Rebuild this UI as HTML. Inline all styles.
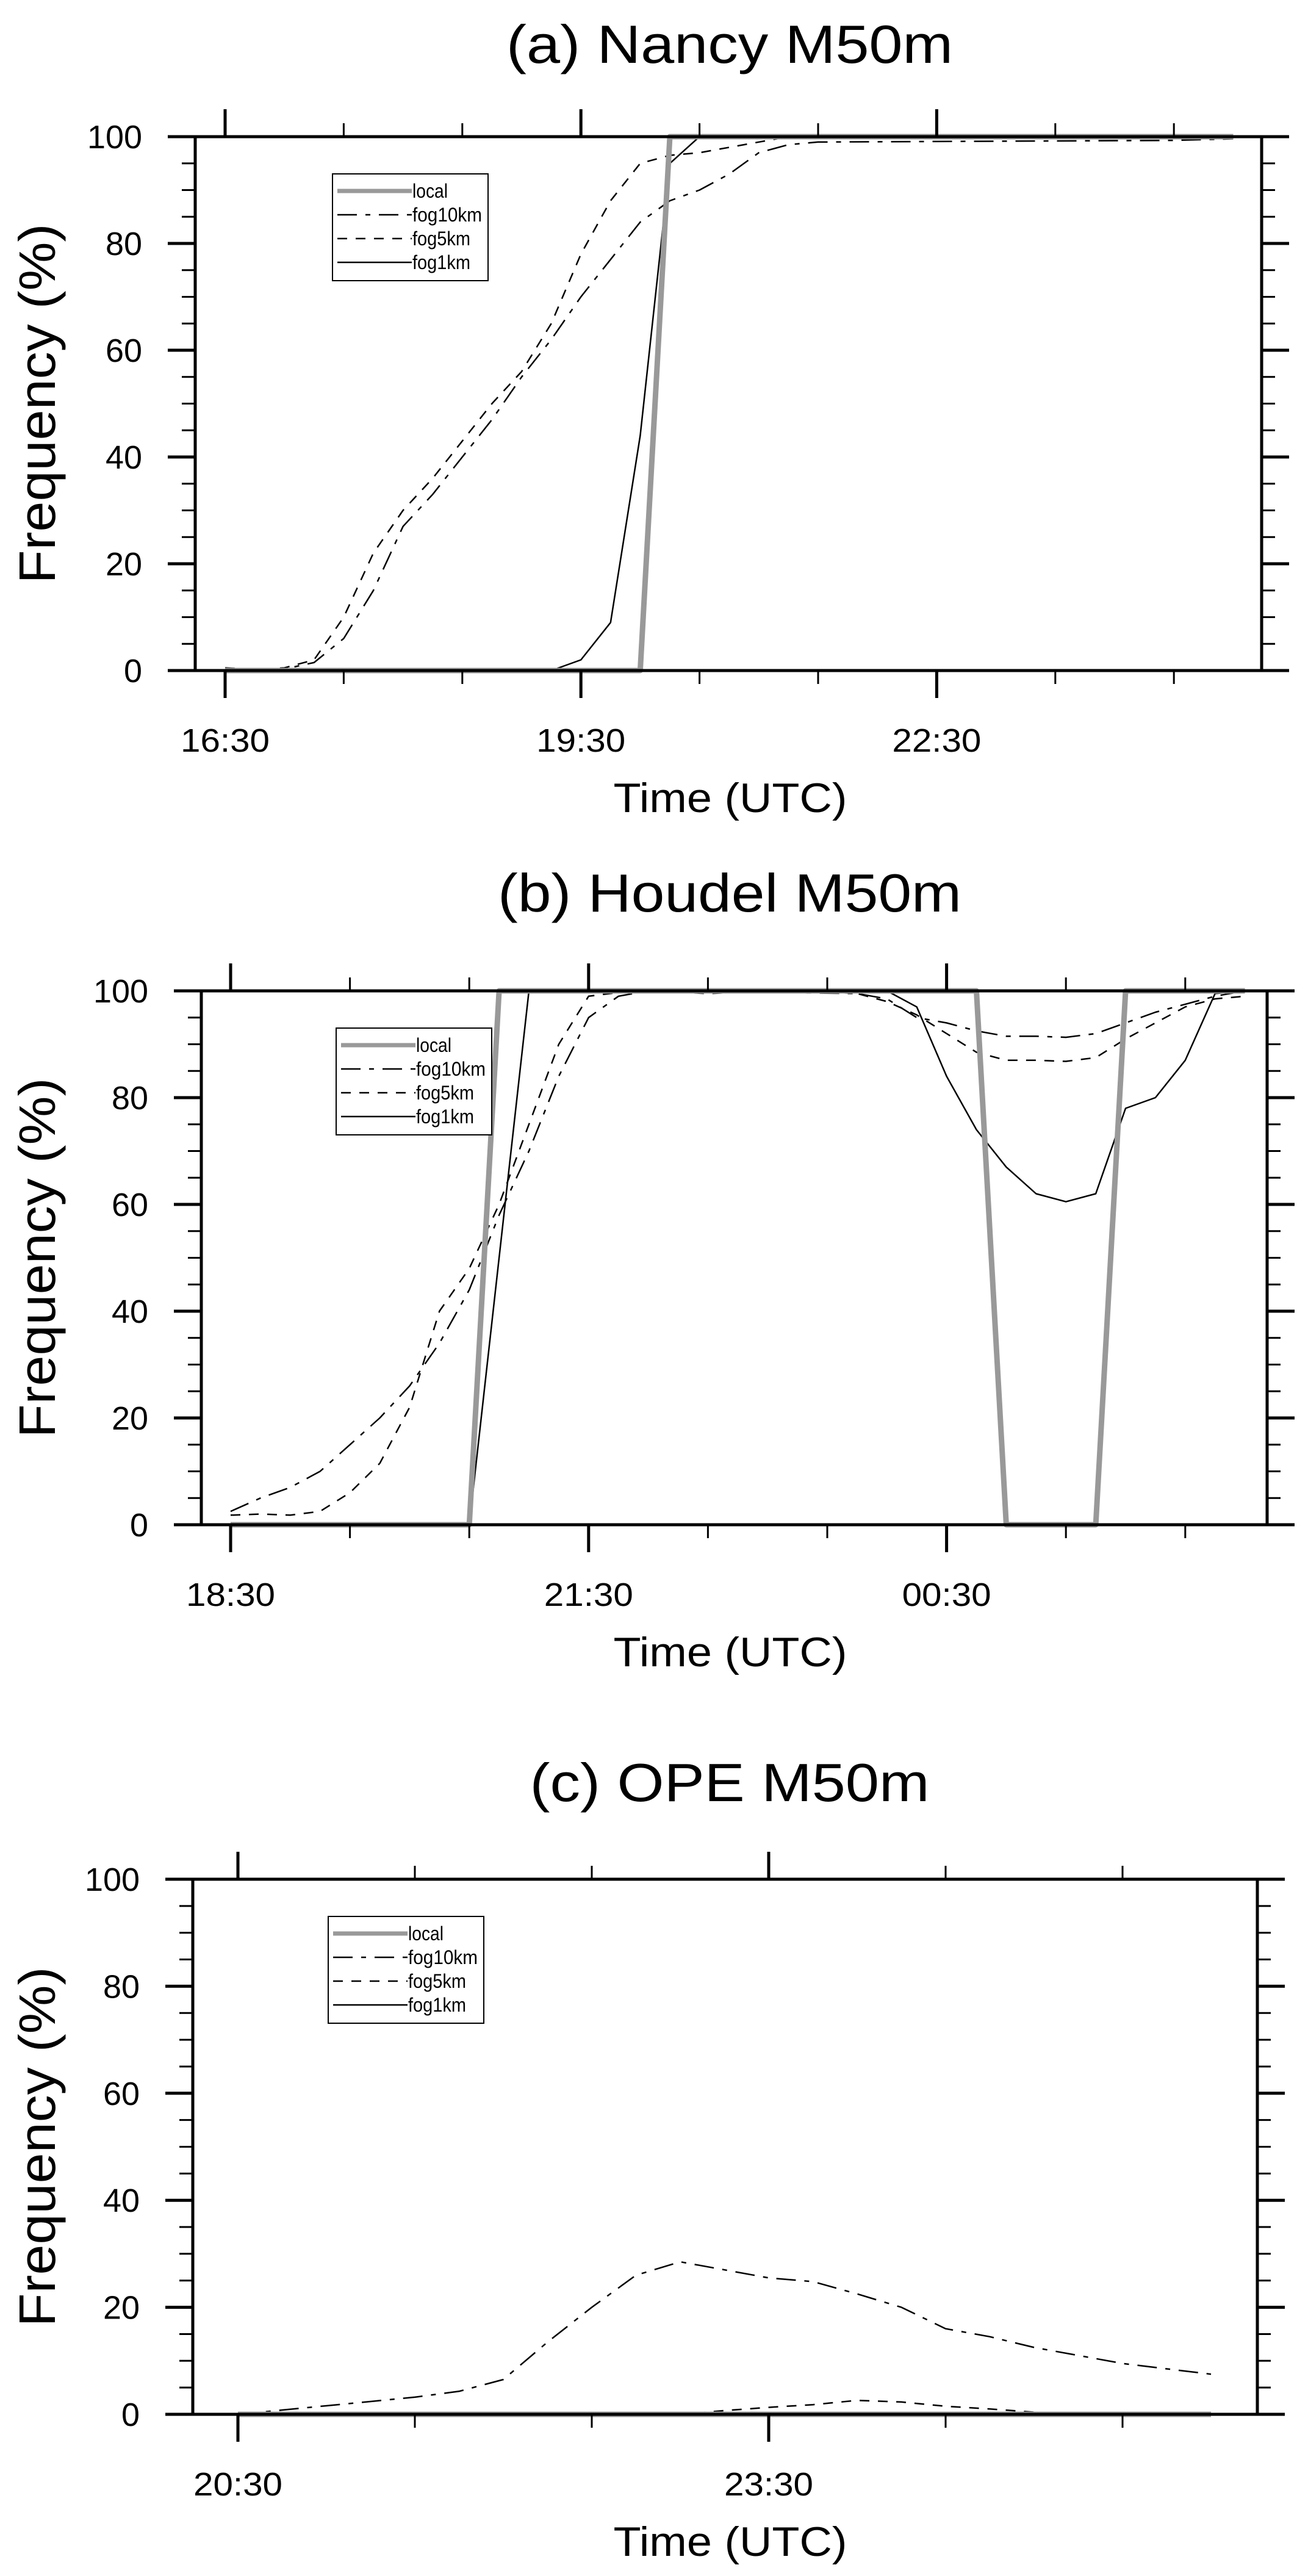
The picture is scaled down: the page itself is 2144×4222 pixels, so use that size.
<!DOCTYPE html>
<html><head><meta charset="utf-8">
<style>html,body{margin:0;padding:0;background:#fff}svg{display:block}</style>
</head><body>
<svg id="s" xmlns="http://www.w3.org/2000/svg" width="2144" height="4222" viewBox="0 0 2144 4222" font-family="Liberation Sans, Arial, sans-serif"></svg>
<script>
const S=document.getElementById('s');let out='';
const P=[
{L:320,R:2068,T:224,B:1099,t0:369,pph:194.4,lab:['16:30','19:30','22:30'],title:'(a) Nancy M50m',ty:103,lx:545,tl:732,
 ser:{
 local:[[0,0],[3.5,0],[3.75,100],[8.5,100]],
 f1:[[0,0],[2.75,0],[3,2],[3.25,9],[3.5,44],[3.75,95],[4,100],[8.5,100]],
 f5:[[0,0.5],[0.25,0.2],[0.5,0.5],[0.75,2],[1,10],[1.25,22],[1.5,30],[1.75,36],[2,43],[2.25,50],[2.5,56],[2.75,65],[3,78],[3.25,88],[3.5,95],[3.75,96.5],[4,97],[4.25,98],[4.5,99],[4.75,100],[8.5,100]],
 f10:[[0,0.3],[0.25,0.2],[0.5,0.3],[0.75,1.5],[1,6],[1.25,15],[1.5,27],[1.75,33],[2,40],[2.25,47],[2.5,55],[2.75,62],[3,70],[3.25,77],[3.5,84],[3.75,88],[4,90],[4.25,93],[4.5,97],[4.75,98.5],[5,99],[6,99.1],[7,99.2],[8,99.3],[8.5,99.6]]}},
{L:330,R:2077,T:1624,B:2499,t0:378,pph:195.6,lab:['18:30','21:30','00:30'],title:'(b) Houdel M50m',ty:1494,lx:551,tl:760,
 ser:{
 local:[[0,0],[2,0],[2.25,100],[6.25,100],[6.5,0],[7.25,0],[7.5,100],[8.5,100]],
 f1:[[0,0],[2,0],[2.25,50],[2.5,100],[5.5,100],[5.75,97],[6,84],[6.25,74],[6.5,67],[6.75,62],[7,60.5],[7.25,62],[7.5,78],[7.75,80],[8,87],[8.25,99.5],[8.5,100]],
 f5:[[0,1.8],[0.25,2],[0.5,1.8],[0.75,2.5],[1,6],[1.25,11.5],[1.5,22],[1.75,40],[2,48],[2.25,60],[2.5,75],[2.75,90],[3,99],[3.25,99.7],[3.5,100],[4,99.5],[4.5,100],[5,99.8],[5.25,99.5],[5.5,98],[5.75,95.5],[6,92],[6.25,88.5],[6.5,87],[6.75,87],[7,86.8],[7.25,87.5],[7.5,91],[7.75,94],[8,97],[8.25,98.5],[8.5,99]],
 f10:[[0,2.5],[0.25,5],[0.5,7],[0.75,10],[1,15],[1.25,20],[1.5,26],[1.75,34],[2,44],[2.25,58],[2.5,70],[2.75,84],[3,95],[3.25,99],[3.5,100],[5.25,99.5],[5.5,98.5],[5.75,95],[6,94],[6.25,92.5],[6.5,91.5],[6.75,91.5],[7,91.3],[7.25,92],[7.5,94],[7.75,96],[8,97.5],[8.25,99],[8.5,100]]}},
{L:316,R:2061,T:3080,B:3957,t0:390,pph:290,lab:['20:30','23:30'],title:'(c) OPE M50m',ty:2952,lx:538,tl:655,
 ser:{
 local:[[0,0],[5.5,0]],f1:[[0,0],[5.5,0]],
 f5:[[0,0],[2.5,0],[2.75,0.7],[3,1.3],[3.25,1.8],[3.5,2.6],[3.75,2.3],[4,1.5],[4.25,1],[4.5,0.4],[4.75,0.1],[5,0],[5.5,0]],
 f10:[[0,0],[0.25,0.8],[0.5,1.6],[0.75,2.4],[1,3.2],[1.25,4.3],[1.5,6.5],[1.75,13.5],[2,20],[2.25,26],[2.5,28.5],[2.75,27],[3,25.5],[3.25,24.8],[3.5,22.5],[3.75,20],[4,16],[4.25,14.5],[4.5,12.5],[4.75,11],[5,9.5],[5.25,8.5],[5.5,7.5]]}}
];
const ST={local:'stroke="#999" stroke-width="9"',f1:'stroke="#000" stroke-width="2.5"',f5:'stroke="#000" stroke-width="2.5" stroke-dasharray="16 14"',f10:'stroke="#000" stroke-width="2.5" stroke-dasharray="32 14 8 14"'};
for(const p of P){
 const X=h=>p.t0+h*p.pph, Y=v=>p.B-(v/100)*(p.B-p.T);
 for(const k of ['f10','f5','f1','local']){
  const pts=p.ser[k].map(d=>X(d[0]).toFixed(1)+','+Y(d[1]).toFixed(1)).join(' ');
  out+=`<polyline fill="none" ${ST[k]} stroke-linejoin="round" points="${pts}"/>`;
 }
 out+=`<rect x="${p.L}" y="${p.T}" width="${p.R-p.L}" height="${p.B-p.T}" fill="none" stroke="#000" stroke-width="5"/>`;
 for(let v=0;v<=100;v+=5){const y=Y(v),maj=v%20==0,l=maj?45:22;
  out+=`<line x1="${p.L-l}" y1="${y}" x2="${p.L}" y2="${y}" stroke="#000" stroke-width="${maj?5:3}"/>`;
  out+=`<line x1="${p.R}" y1="${y}" x2="${p.R+l}" y2="${y}" stroke="#000" stroke-width="${maj?5:3}"/>`;
  if(maj){const s=String(v);out+=`<text x="${p.L-87}" y="${y+19}" font-size="54" text-anchor="end" textLength="${s.length*30}" lengthAdjust="spacingAndGlyphs">${s}</text>`;}
 }
 for(let k=0;;k++){const x=X(k);if(x>p.R)break;const maj=k%3==0,l=maj?45:22;
  out+=`<line x1="${x}" y1="${p.T-l}" x2="${x}" y2="${p.T}" stroke="#000" stroke-width="${maj?5:3}"/>`;
  out+=`<line x1="${x}" y1="${p.B}" x2="${x}" y2="${p.B+l}" stroke="#000" stroke-width="${maj?5:3}"/>`;
  if(maj&&p.lab[k/3])out+=`<text x="${x}" y="${p.B+133}" font-size="54" text-anchor="middle" textLength="146" lengthAdjust="spacingAndGlyphs">${p.lab[k/3]}</text>`;
 }
 const cy=(p.T+p.B)/2;
 out+=`<text x="1196" y="${p.ty}" font-size="88" text-anchor="middle" textLength="${p.tl}" lengthAdjust="spacingAndGlyphs">${p.title}</text>`;
 out+=`<text x="1197" y="${p.B+232}" font-size="68" text-anchor="middle" textLength="383" lengthAdjust="spacingAndGlyphs">Time (UTC)</text>`;
 out+=`<text transform="translate(90,${cy}) rotate(-90)" x="0" y="0" font-size="84" text-anchor="middle" textLength="590" lengthAdjust="spacingAndGlyphs">Frequency (%)</text>`;
 const bx=p.lx, by=p.T+61;
 out+=`<rect x="${bx}" y="${by}" width="255" height="175" fill="#fff" stroke="#000" stroke-width="2"/>`;
 const rows=[['local','local',58],['f10','fog10km',114],['f5','fog5km',95],['f1','fog1km',95]];
 rows.forEach((r,i)=>{const y=by+28+i*39;
  out+=`<line x1="${bx+8}" y1="${y}" x2="${bx+130}" y2="${y}" ${ST[r[0]].replace('stroke-width="9"','stroke-width="7"')}/>`;
  out+=`<text x="${bx+131}" y="${y+11}" font-size="32" textLength="${r[2]}" lengthAdjust="spacingAndGlyphs">${r[1]}</text>`;
 });
}
S.innerHTML=out;
</script>
</body></html>
